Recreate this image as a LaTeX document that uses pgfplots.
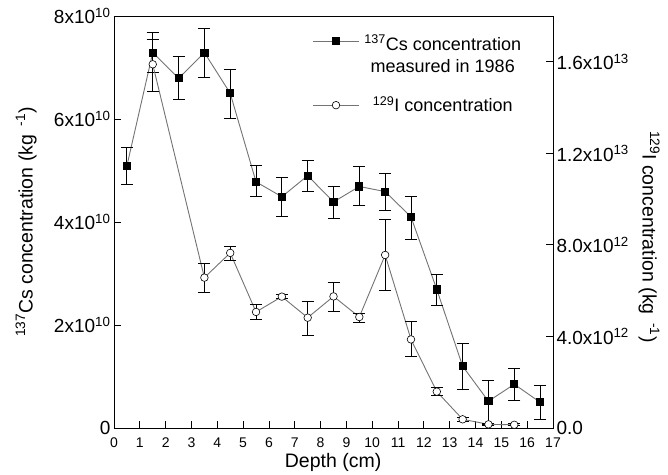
\documentclass[border=0pt]{standalone}
\usepackage{pgfplots}
\pgfplotsset{compat=1.18}
\usepackage{pgfplotstable}
\usepackage{fontspec}
\setmainfont{Liberation Sans}

% 137Cs, units of 1e10 per kg
\pgfplotstableread{
x    y     ep    em
0.5  5.09  0.36  0.36
1.5  7.29  0.40  0.39
2.5  6.79  0.42  0.42
3.5  7.29  0.47  0.49
4.5  6.50  0.47  0.49
5.5  4.78  0.31  0.29
6.5  4.49  0.37  0.39
7.5  4.90  0.29  0.31
8.5  4.39  0.30  0.32
9.5  4.69  0.38  0.37
10.5 4.59  0.36  0.36
11.5 4.10  0.40  0.43
12.5 2.69  0.30  0.31
13.5 1.20  0.44  0.45
14.5 0.52  0.41  0.46
15.5 0.85  0.30  0.31
16.5 0.50  0.33  0.33
}\cs

% 129I, units of 1e12 per kg
\pgfplotstableread{
x    y      ep    em
1.5  15.89  1.10  1.20
3.5  6.57   0.61  0.63
4.5  7.65   0.30  0.35
5.5  5.07   0.32  0.32
6.5  5.74   0.08  0.08
7.5  4.82   0.71  0.77
8.5  5.75   0.60  0.65
9.5  4.85   0.16  0.22
10.5 7.56   1.56  1.57
11.5 3.87   0.79  0.76
12.5 1.59   0.19  0.18
13.5 0.38   0.08  0.08
14.5 0.16   0.06  0.06
15.5 0.14   0.05  0.05
}\iod

\pgfplotsset{
  base/.style={
    width=439pt, height=412pt, scale only axis,
    xmin=0, xmax=17,
    major tick length=7pt,
    tick style={black, line width=0.8pt},
    axis line style={line width=0.9pt},
  },
  ebar/.style={
    error bars/.cd, y dir=both, y explicit,
    error bar style={black, line width=0.9pt},
    error mark options={rotate=90, mark size=6pt, black, line width=0.9pt},
  },
  csstyle/.style={black!55, line width=0.9pt, mark=square*,
    mark size=3.6pt, mark options={fill=black, draw=black, solid}},
  istyle/.style={black!55, line width=0.9pt, mark=*,
    mark size=3.8pt, mark options={fill=white, draw=black, line width=0.6pt, solid}},
}

\begin{document}
\begin{tikzpicture}
\useasboundingbox (-114pt,-46pt) rectangle (554pt,428pt);
\begin{axis}[
  base,
  ymin=0, ymax=8,
  xtick={0,...,17}, xtick pos=bottom,
  ytick={0,2,4,6,8}, ytick pos=left,
  yticklabels={0, 2x10\textsuperscript{10}, 4x10\textsuperscript{10}, 6x10\textsuperscript{10}, 8x10\textsuperscript{10}},
  /pgf/number format/assume math mode=true,
  xticklabel style={font=\fontsize{14}{16}\selectfont, yshift=-6pt},
  yticklabel style={font=\fontsize{19}{21}\selectfont},
  xlabel={Depth (cm)},
  xlabel style={at={(rel axis cs:0.499,-0.083)}, anchor=center, font=\fontsize{19.5}{21}\selectfont},
  ylabel={\textsuperscript{137}Cs concentration (kg\, \textsuperscript{-1})},
  ylabel style={at={(rel axis cs:-0.200,0.5)}, anchor=center, rotate=0, font=\fontsize{19.5}{21}\selectfont},
]
\addplot[csstyle, ebar] table[x=x, y=y, y error plus=ep, y error minus=em] {\cs};
\end{axis}
\begin{axis}[
  base,
  ymin=0, ymax=18,
  axis x line=none, axis y line*=right,
  ytick={0,4,8,12,16},
  yticklabels={0.0, 4.0x10\textsuperscript{12}, 8.0x10\textsuperscript{12}, 1.2x10\textsuperscript{13}, 1.6x10\textsuperscript{13}},
  yticklabel style={font=\fontsize{19}{21}\selectfont},
  ylabel={\textsuperscript{129}I concentration (kg\, \textsuperscript{-1})},
  ylabel style={at={(rel axis cs:1.219,0.464)}, anchor=center, rotate=180, font=\fontsize{19.5}{21}\selectfont},
  legend style={draw=none, fill=none, at={(rel axis cs:0.445,0.970)}, anchor=north west,
    font=\fontsize{18}{25}\selectfont, row sep=31pt, column sep=3pt},
  legend image code/.code={
    \draw[#1, mark repeat=2, mark phase=2] plot coordinates {(0pt,0pt) (23pt,0pt) (46pt,0pt)};
  },
]
\addlegendimage{csstyle, yshift=6pt}
\addlegendentry{\begin{tabular}{@{}c@{}}\textsuperscript{137}Cs concentration\\[-3pt]measured in 1986\end{tabular}}
\addplot[istyle, ebar] table[x=x, y=y, y error plus=ep, y error minus=em] {\iod};
\addlegendentry{\textsuperscript{129}I concentration}
\end{axis}
\end{tikzpicture}
\end{document}
